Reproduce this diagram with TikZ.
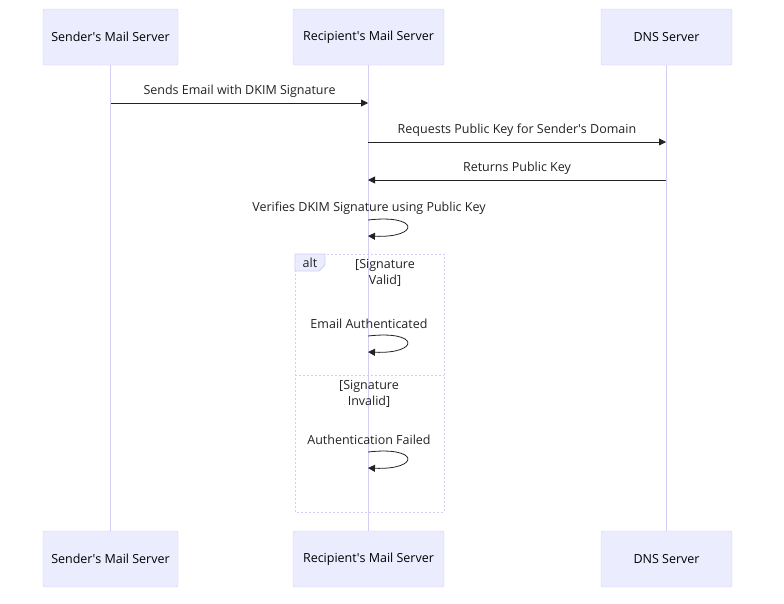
\documentclass[tikz,border=0pt]{standalone}
\usepackage{fontspec}
\setmainfont{Open Sans}
\usetikzlibrary{arrows.meta}
\definecolor{boxfill}{HTML}{ECECFF}
\definecolor{boxline}{HTML}{CCCCFF}
\definecolor{life}{HTML}{D4CCF5}
\definecolor{ink}{HTML}{222222}
\newcommand{\apo}{\textquotesingle}
\begin{document}
\begin{tikzpicture}[x=1pt,y=-1pt,
  actor/.style={draw=boxline,fill=boxfill,rounded corners=2pt,minimum height=56pt,inner sep=0pt,font=\fontsize{12.5}{15}\selectfont,text=black},
  lbl/.style={font=\fontsize{12.5}{15.5}\selectfont,text=ink},
  msg/.style={draw=ink,line width=0.8pt,-{Triangle[length=7pt,width=7pt]}},
  lifeline/.style={draw=life,line width=1.2pt},
  frame/.style={draw=life,line width=1pt,dash pattern=on 2pt off 2pt}]
\useasboundingbox (0,0) rectangle (784,603);
\node[actor,minimum width=135pt] (s1) at (110.5,37) {Sender\apo s Mail Server};
\node[actor,minimum width=151pt] (r1) at (368.5,37) {Recipient\apo s Mail Server};
\node[actor,minimum width=131pt] (d1) at (666.5,37) {DNS Server};
\node[actor,minimum width=135pt] (s2) at (110.5,559) {Sender\apo s Mail Server};
\node[actor,minimum width=151pt] (r2) at (368.5,559) {Recipient\apo s Mail Server};
\node[actor,minimum width=131pt] (d2) at (666.5,559) {DNS Server};
\draw[lifeline] (s1) -- (s2);
\draw[lifeline] (r1) -- (r2);
\draw[lifeline] (d1) -- (d2);
% alt frame
\draw[frame] (295,254) rectangle (444,512);
\draw[frame] (295,375) -- (444,375);
\filldraw[draw=life,fill=boxfill,line width=0.8pt] (295,254) -- (325,254) -- (325,265) -- (319,271) -- (295,271) -- cycle;
\node[lbl] (alt) at (310,263) {alt};
\node[lbl,align=center] (c1) at (385,273) {[Signature\\Valid]};
\node[lbl,align=center] (c2) at (369,394) {[Signature\\Invalid]};
% messages
\coordinate (a1) at (111,103); \coordinate (a2) at (368,103);
\draw[msg] (a1) -- (a2) node[lbl,midway,above=2pt] (m1) {Sends Email with DKIM Signature};
\coordinate (b1) at (368,142); \coordinate (b2) at (666,142);
\draw[msg] (b1) -- (b2) node[lbl,midway,above=2pt] (m2) {Requests Public Key for Sender\apo s Domain};
\coordinate (c1s) at (666,180); \coordinate (c2s) at (368,180);
\draw[msg] (c1s) -- (c2s) node[lbl,midway,above=2pt] (m3) {Returns Public Key};
\foreach \y/\t/\n in {220/Verifies DKIM Signature using Public Key/v, 336/Email Authenticated/e, 452/Authentication Failed/f}{
  \coordinate (\n1) at (368,\y); \coordinate (\n2) at (368,\y+16);
  \draw[msg] (\n1) .. controls (420,\y-6) and (420,\y+18) .. (\n2);
  \node[lbl] (\n t) at (369,\y-12) {\t};
}
\end{tikzpicture}
\end{document}
